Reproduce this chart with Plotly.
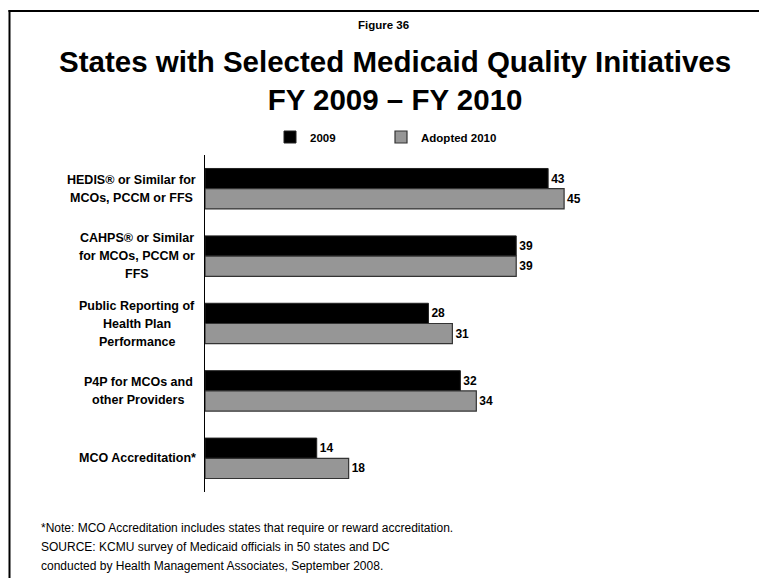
import plotly.graph_objects as go

# data
categories = [
    "HEDIS® or Similar for<br>MCOs, PCCM or FFS",
    "CAHPS® or Similar<br>for MCOs, PCCM or<br>FFS",
    "Public Reporting of<br>Health Plan<br>Performance",
    "P4P for MCOs and<br>other Providers",
    "MCO Accreditation*",
]
values_2009 = [43, 39, 28, 32, 14]
values_2010 = [45, 39, 31, 34, 18]
series_names = ["2009", "Adopted 2010"]

FONT = "Liberation Sans, Arial, sans-serif"

# the page puts the figure 8px in from the corner, so work in page pixels
OFF = 8
W, H = 767 - OFF, 586 - 2 * OFF
# plot area in page pixels
L, R, T, B = 205, 604, 155, 492


def px_x(p):
    return (p - L) / (R - L)


def px_y(p):
    return (B - p) / (B - T)


fig = go.Figure()

fig.add_trace(go.Bar(
    y=categories, x=values_2009, name="<b>" + series_names[0] + "</b>",
    orientation="h", legend="legend",
    marker=dict(color="#000000", line=dict(color="#222222", width=1)),
    text=values_2009, textposition="outside", cliponaxis=False,
    textfont=dict(family=FONT, size=12, color="#000000"),
    texttemplate="<b>%{x}</b>",
))
fig.add_trace(go.Bar(
    y=categories, x=values_2010, name="<b>" + series_names[1] + "</b>",
    orientation="h", legend="legend2",
    marker=dict(color="#969696", line=dict(color="#333333", width=1.2)),
    text=values_2010, textposition="outside", cliponaxis=False,
    textfont=dict(family=FONT, size=12, color="#000000"),
    texttemplate="<b>%{x}</b>",
))

annotations = []

# category labels, one line at a time so the spacing matches
centers = [131, 137, 137, 138, 137]
for cat, cx in zip(categories, centers):
    lines = cat.split("<br>")
    n = len(lines)
    for i, line in enumerate(lines):
        annotations.append(dict(
            x=px_x(cx), xref="paper", y=cat, yref="y",
            text="<b>" + line + "</b>", showarrow=False,
            xanchor="center", yanchor="middle",
            yshift=((n - 1) / 2 - i) * 18,
            font=dict(family=FONT, size=12.5, color="#000000"),
        ))

# titles
annotations.append(dict(
    x=px_x(383), y=px_y(25), xref="paper", yref="paper",
    text="<b>Figure 36</b>", showarrow=False,
    xanchor="center", yanchor="middle",
    font=dict(family=FONT, size=11.5, color="#000000"),
))
annotations.append(dict(
    x=px_x(395), y=px_y(81), xref="paper", yref="paper",
    text="<b>States with Selected Medicaid Quality Initiatives<br>FY 2009 – FY 2010</b>",
    showarrow=False, xanchor="center", yanchor="middle",
    font=dict(family=FONT, size=29.5, color="#000000"),
))

# footnotes
notes = [
    "*Note: MCO Accreditation includes states that require or reward accreditation.",
    "SOURCE: KCMU survey of Medicaid officials in 50 states and DC",
    "conducted by Health Management Associates, September 2008.",
]
for i, note in enumerate(notes):
    annotations.append(dict(
        x=px_x(39), y=px_y(528 + i * 19), xref="paper", yref="paper",
        text=note, showarrow=False, xanchor="left", yanchor="middle",
        font=dict(family=FONT, size=12, color="#000000"),
    ))

# frame edges (only left and top are visible in the picture), drawn as thin filled rects
shapes = [
    dict(type="rect", xref="paper", yref="paper",
         x0=px_x(8.5), x1=px_x(10.5), y0=px_y(10), y1=px_y(578),
         fillcolor="#000000", line=dict(width=0)),
    dict(type="rect", xref="paper", yref="paper",
         x0=px_x(8.5), x1=px_x(767), y0=px_y(10), y1=px_y(12),
         fillcolor="#000000", line=dict(width=0)),
]

legend_common = dict(orientation="h", xanchor="left", yanchor="middle",
                     font=dict(family=FONT, size=11.5, color="#000000"),
                     bgcolor="rgba(0,0,0,0)")

fig.update_layout(
    width=W, height=H,
    margin=dict(l=L - OFF, r=W - (R - OFF), t=T - OFF, b=H - (B - OFF), pad=0),
    paper_bgcolor="white", plot_bgcolor="white",
    barmode="group", bargap=0.4, bargroupgap=0,
    font=dict(family=FONT, color="#000000"),
    xaxis=dict(range=[0, 50], visible=False, fixedrange=True),
    yaxis=dict(autorange="reversed", showticklabels=False, ticks="",
               showline=True, linecolor="#000000", linewidth=1,
               showgrid=False, zeroline=False),
    showlegend=True,
    legend=dict(x=px_x(270), y=px_y(137), **legend_common),
    legend2=dict(x=px_x(381), y=px_y(137), **legend_common),
    annotations=annotations,
    shapes=shapes,
)

fig.write_html("out.html")
